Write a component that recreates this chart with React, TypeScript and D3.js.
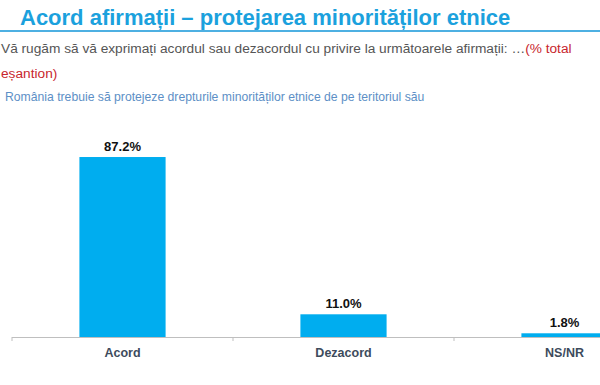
import * as d3 from "d3";
import React from "react";

const categories = ["Acord", "Dezacord", "NS/NR"];
const values = [87.2, 11.0, 1.8];

const W = 600;
const H = 385;

export default function App() {
  const baseY = 337;
  const x = d3.scaleBand<string>().domain(categories).range([12, 675]).paddingInner(0.61).paddingOuter(0.305);
  const y = d3.scaleLinear().domain([0, 100]).range([baseY, baseY - 206.4]);
  const step = x.step();
  const fmt = d3.format(".1f");
  const font = "'Liberation Sans', Arial, sans-serif";

  return (
    <div style={{ position: "absolute", left: 0, top: 0 }}>
      <svg width={W} height={H} style={{ display: "block", background: "#fff", fontFamily: font }}>
        <text x={20} y={25} fontSize={22} fontWeight="bold" fill="#1ba1dd">
          Acord afirmații – protejarea minorităților etnice
        </text>
        <line x1={0} x2={W} y1={31} y2={31} stroke="#4db0e2" strokeWidth={2} />
        <text x={1} y={53} fontSize={13.7} fill="#555">
          Vă rugăm să vă exprimați acordul sau dezacordul cu privire la următoarele afirmații: …
          <tspan fill="#c8262e">(% total</tspan>
        </text>
        <text x={1} y={78} fontSize={13.7} fill="#c8262e">eșantion)</text>
        <text x={5} y={101} fontSize={12.2} fill="#5d8fc6">
          România trebuie să protejeze drepturile minorităților etnice de pe teritoriul său
        </text>

        {categories.map((c, i) => (
          <g key={c}>
            <rect
              x={x(c)}
              y={y(values[i])}
              width={x.bandwidth()}
              height={baseY - y(values[i])}
              fill="#00adef"
            />
            <text
              x={(x(c) ?? 0) + x.bandwidth() / 2}
              y={y(values[i]) - 6}
              textAnchor="middle"
              fontSize={13}
              fontWeight="bold"
              fill="#111"
            >
              {fmt(values[i])}%
            </text>
            <text
              x={(x(c) ?? 0) + x.bandwidth() / 2}
              y={baseY + 20}
              textAnchor="middle"
              fontSize={12.5}
              fontWeight="bold"
              fill="#3d4b5c"
            >
              {c}
            </text>
          </g>
        ))}
        <line x1={12} x2={W} y1={baseY + 0.5} y2={baseY + 0.5} stroke="#bfbfbf" strokeWidth={1} />
        {categories.map((c) => {
          const tx = (x(c) ?? 0) - (step - x.bandwidth()) / 2;
          return <line key={"t" + c} x1={tx} x2={tx} y1={baseY} y2={baseY + 4} stroke="#bfbfbf" />;
        })}
      </svg>
    </div>
  );
}
